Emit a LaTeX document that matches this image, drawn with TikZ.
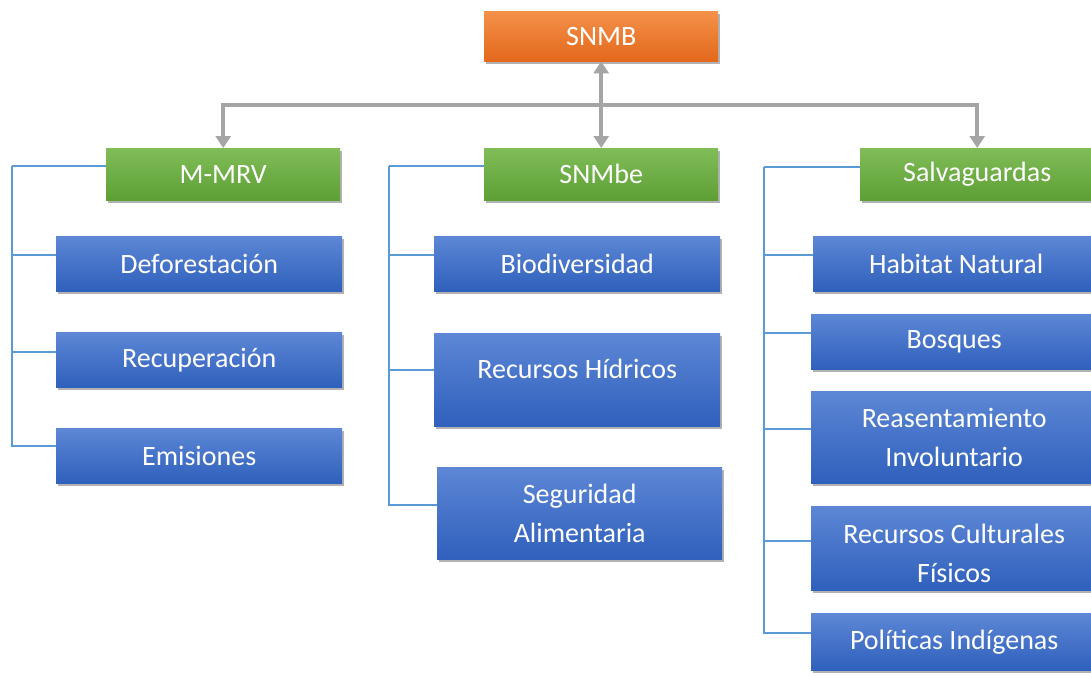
\documentclass[tikz,border=0pt]{standalone}
\usepackage{fontspec}
\setmainfont{Carlito}
\usetikzlibrary{shadows,calc,arrows.meta}
\definecolor{orT}{HTML}{F4914A}
\definecolor{orB}{HTML}{E3681B}
\definecolor{grT}{HTML}{80BD58}
\definecolor{grB}{HTML}{5E9F35}
\definecolor{blT}{HTML}{5D87D6}
\definecolor{blB}{HTML}{2F60BC}
\definecolor{garr}{HTML}{A5A5A5}
\definecolor{bln}{HTML}{5B9BD5}
\tikzset{
  box/.style={anchor=north west, inner sep=0pt, text=white, align=center,
    font=\fontsize{28}{39}\selectfont,
    drop shadow={shadow xshift=1.5pt, shadow yshift=-2.5pt, fill=black, opacity=0.3}},
  orbox/.style={box, top color=orT, bottom color=orB},
  grbox/.style={box, top color=grT, bottom color=grB, minimum width=234pt, minimum height=52pt},
  blbox/.style={box, top color=blT, bottom color=blB, minimum width=286pt},
  garrow/.style={draw=garr, line width=3.8pt, -{Triangle[width=15pt,length=12pt]}},
  bline/.style={draw=bln, line width=1.4pt}
}
\begin{document}
\begin{tikzpicture}[x=1pt,y=-1pt]
\useasboundingbox (0,0) rectangle (1091,675);
\clip (0,0) rectangle (1091,675);
\fill[white] (0,0) rectangle (1091,675);

% top
\node[orbox, minimum width=234pt, minimum height=50pt] (snmb) at (484,11) {SNMB};
\node[grbox] (mmrv) at (106,148) {M-MRV};
\node[grbox] (snmbe) at (484,148) {SNMbe};
\node[grbox] (salv) at (860,148) {Salvaguardas};

% left column
\node[blbox, minimum height=55pt] (defo) at (56,236) {Deforestación};
\node[blbox, minimum height=55pt] (recu) at (56,332) {Recuperación};
\node[blbox, minimum height=55pt] (emis) at (56,428) {Emisiones};

% middle column
\node[blbox, minimum height=55pt] (bio) at (434,236) {Biodiversidad};
\node[blbox, minimum height=93pt] (hidr) at (434,333) {\raisebox{11pt}[\height][\depth]{Recursos Hídricos}};
\node[blbox, minimum width=285pt, minimum height=92pt] (segu) at (437,467) {Seguridad\\Alimentaria};

% right column
\node[blbox, minimum height=55pt] (habi) at (813,236) {Habitat Natural};
\node[blbox, minimum height=55pt] (bosq) at (811,314) {Bosques};
\node[blbox, minimum height=92pt] (reas) at (811,391) {Reasentamiento\\Involuntario};
\node[blbox, minimum height=84pt] (cult) at (811,506) {\raisebox{-7pt}[\height][\depth]{\begin{tabular}{@{}c@{}}Recursos Culturales\\Físicos\end{tabular}}};
\node[blbox, minimum height=57pt] (poli) at (811,613) {Políticas Indígenas};

% gray arrows
\coordinate (hub) at (601,105);
\draw[garrow] (hub) -| (mmrv.north);
\draw[garrow] (hub) -| (salv.north);
\draw[garrow, {Triangle[width=15pt,length=12pt]}-{Triangle[width=15pt,length=12pt]}] (snmb.south) -- (snmbe.north);

% blue brackets
\coordinate (Lbar) at (12,166);
\coordinate (Mbar) at (389,166);
\coordinate (Rbar) at (764,167);
\draw[bline] ($(mmrv.north west)+(0,18)$) -| (Lbar);
\draw[bline] ($(defo.north west)+(0,19)$) -| (Lbar);
\draw[bline] ($(recu.north west)+(0,20)$) -| (Lbar);
\draw[bline] ($(emis.north west)+(0,18)$) -| (Lbar);

\draw[bline] ($(snmbe.north west)+(0,18)$) -| (Mbar);
\draw[bline] ($(bio.north west)+(0,19)$) -| (Mbar);
\draw[bline] ($(hidr.north west)+(0,37)$) -| (Mbar);
\draw[bline] ($(segu.north west)+(0,38)$) -| (Mbar);

\draw[bline] ($(salv.north west)+(0,19)$) -| (Rbar);
\draw[bline] ($(habi.north west)+(0,19)$) -| (Rbar);
\draw[bline] ($(bosq.north west)+(0,19)$) -| (Rbar);
\draw[bline] ($(reas.north west)+(0,38)$) -| (Rbar);
\draw[bline] ($(cult.north west)+(0,35)$) -| (Rbar);
\draw[bline] ($(poli.north west)+(0,20)$) -| (Rbar);
\end{tikzpicture}
\end{document}
